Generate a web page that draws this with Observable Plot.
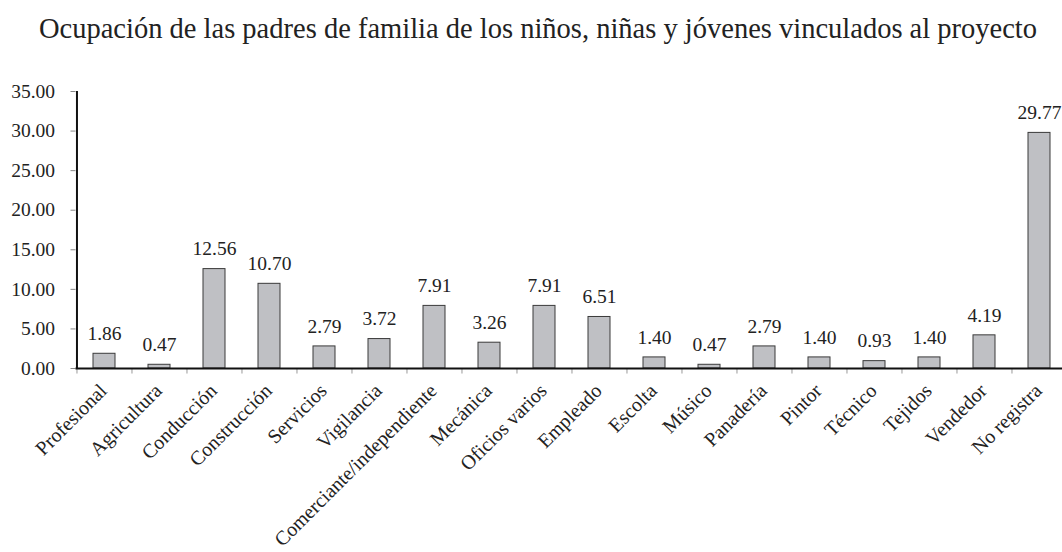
<!DOCTYPE html>
<html>
<head>
<meta charset="utf-8">
<script src="https://cdn.jsdelivr.net/npm/d3@7"></script>
<script src="https://cdn.jsdelivr.net/npm/@observablehq/plot@0.6"></script>
<style>
  html, body { margin: 0; padding: 0; background: #fff; overflow: hidden; }
  #title { height: 60px; width: 1062px; font-family: "Liberation Serif", serif; font-size: 28.5px; color: #222;
           position: relative; }
  #title span { position: absolute; left: 538px; top: 13px; transform: translateX(-50%); white-space: nowrap; }
  svg { display: block; }
</style>
</head>
<body>
<div id="title"><span>Ocupación de las padres de familia de los niños, niñas y jóvenes vinculados al proyecto</span></div>
<div id="chart"></div>
<script>
const categories = ["Profesional","Agricultura","Conducción","Construcción","Servicios","Vigilancia","Comerciante/independiente","Mecánica","Oficios varios","Empleado","Escolta","Músico","Panadería","Pintor","Técnico","Tejidos","Vendedor","No registra"];
const values = [1.86,0.47,12.56,10.70,2.79,3.72,7.91,3.26,7.91,6.51,1.40,0.47,2.79,1.40,0.93,1.40,4.19,29.77];
const yTicks = [0,5,10,15,20,25,30,35];

const data = categories.map((c, i) => ({cat: c, value: values[i]}));
const width = 1062, marginLeft = 75.5, marginRight = -4.5;
const step = (width - marginLeft - marginRight) / categories.length;

const chart = Plot.plot({
  width,
  height: 492,
  marginTop: 31,
  marginBottom: 184,
  marginLeft,
  marginRight,
  style: {fontFamily: "Liberation Serif, serif", fontSize: "19px", color: "#222", background: "#fff", overflow: "visible"},
  x: {domain: categories, paddingInner: 0.6, paddingOuter: 0.3, label: null},
  y: {domain: [0, 35], label: null},
  marks: [
    Plot.axisY({ticks: yTicks, tickFormat: d => d.toFixed(2), tickSize: 5, tickPadding: 16, stroke: "#888", fontSize: 19.5}),
    Plot.axisX({tickSize: 0, tickRotate: -45, tickPadding: 19, fontSize: 20, dx: -1}),
    Plot.ruleX(categories, {x: d => d, dx: -step / 2, y1: 0, y2: -0.7, stroke: "#999", strokeWidth: 1}),
    Plot.barY(data, {x: "cat", y: "value", fill: "#bfc0c4", stroke: "#3a3a3a", strokeWidth: 1}),
    Plot.text(data, {x: "cat", y: "value", text: d => d.value.toFixed(2), dy: -20, fontSize: 19.5, fill: "#222"}),
    Plot.ruleY([0], {stroke: "#111", strokeWidth: 2}),
    Plot.ruleX([categories[0]], {x: d => d, dx: -step / 2, y1: 0, y2: 35, stroke: "#111", strokeWidth: 2})
  ]
});
document.getElementById("chart").appendChild(chart);
</script>
</body>
</html>
